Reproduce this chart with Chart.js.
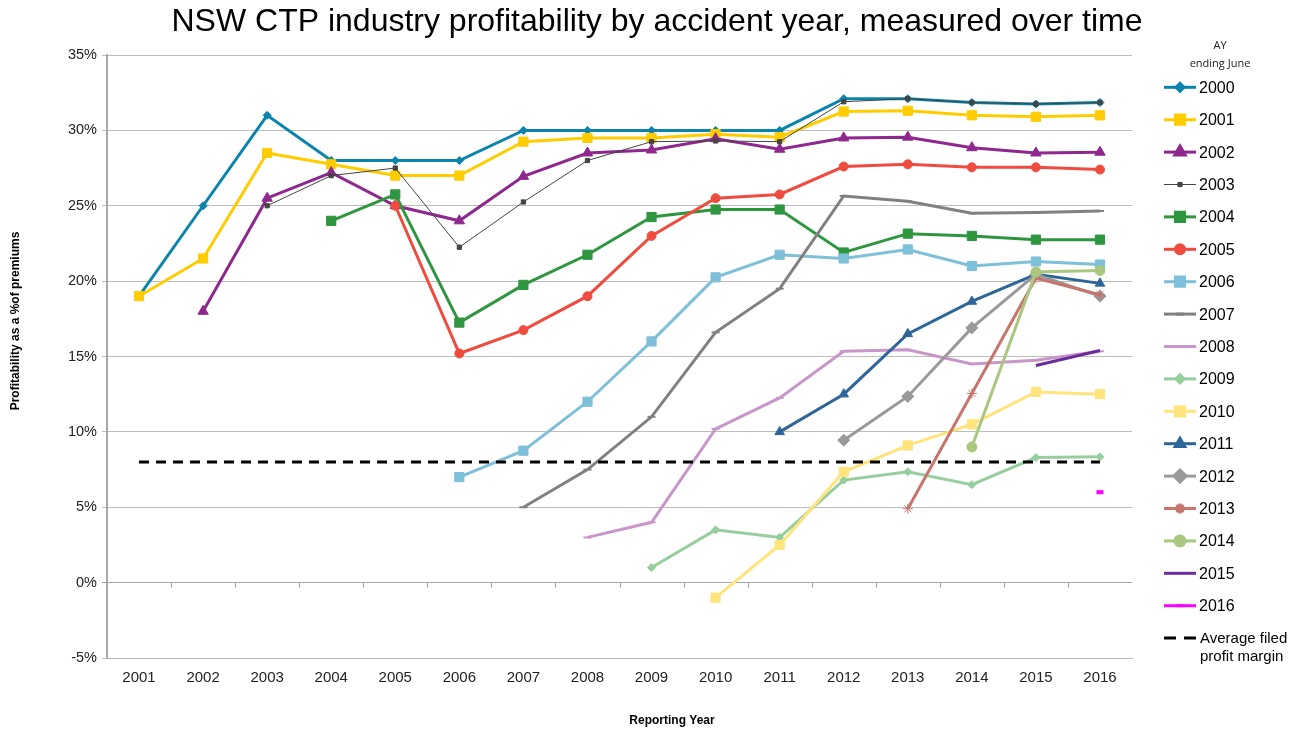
<!DOCTYPE html>
<html>
<head>
<meta charset="utf-8">
<script src="https://cdn.jsdelivr.net/npm/chart.js@4.4.1/dist/chart.umd.min.js"></script>
<style>
  html, body { margin: 0; padding: 0; background: #fff; }
  #wrap { width: 1291px; height: 730px; position: relative; }
</style>
</head>
<body>
<div id="wrap"><canvas id="myChart"></canvas></div>
<script>
// reporting years (x categories)
const years = ['2001','2002','2003','2004','2005','2006','2007','2008',
               '2009','2010','2011','2012','2013','2014','2015','2016'];

// profitability (% of premiums) per accident year, by reporting year
const ay2000 = [19, 25, 31, 28, 28, 28, 30, 30, 30, 30, 30, 32.1, 32.1, 31.85, 31.75, 31.85];
const ay2001 = [19, 21.5, 28.5, 27.75, 27, 27, 29.25, 29.5, 29.5, 29.75, 29.55, 31.25, 31.3, 31.0, 30.9, 31.0];
const ay2002 = [null, 18, 25.5, 27.2, 25, 24, 26.95, 28.5, 28.7, 29.45, 28.75, 29.5, 29.55, 28.85, 28.5, 28.55];
const ay2003 = [null, null, 25, 27, 27.5, 22.25, 25.25, 28, 29.25, 29.3, 29.25, 31.9, 32.1, 31.85, 31.75, 31.85];
const ay2004 = [null, null, null, 24, 25.75, 17.25, 19.75, 21.75, 24.25, 24.75, 24.75, 21.9, 23.15, 23.0, 22.75, 22.75];
const ay2005 = [null, null, null, null, 25, 15.2, 16.75, 19, 23, 25.5, 25.75, 27.6, 27.75, 27.55, 27.55, 27.4];
const ay2006 = [null, null, null, null, null, 7, 8.75, 12, 16, 20.25, 21.75, 21.5, 22.1, 21.0, 21.3, 21.1];
const ay2007 = [null, null, null, null, null, null, 5, 7.5, 11, 16.6, 19.5, 25.65, 25.3, 24.5, 24.55, 24.65];
const ay2008 = [null, null, null, null, null, null, null, 3, 4, 10.2, 12.25, 15.35, 15.45, 14.5, 14.75, 15.35];
const ay2009 = [null, null, null, null, null, null, null, null, 1, 3.5, 3, 6.8, 7.35, 6.5, 8.3, 8.35];
const ay2010 = [null, null, null, null, null, null, null, null, null, -1, 2.5, 7.35, 9.1, 10.5, 12.65, 12.5];
const ay2011 = [null, null, null, null, null, null, null, null, null, null, 10, 12.5, 16.5, 18.65, 20.45, 19.85];
const ay2012 = [null, null, null, null, null, null, null, null, null, null, null, 9.45, 12.35, 16.9, 20.45, 19.0];
const ay2013 = [null, null, null, null, null, null, null, null, null, null, null, null, 4.9, 12.55, 20.2, 19.1];
const ay2014 = [null, null, null, null, null, null, null, null, null, null, null, null, null, 9, 20.6, 20.7];
const ay2015 = [null, null, null, null, null, null, null, null, null, null, null, null, null, null, 14.4, 15.4];
const ay2016 = [null, null, null, null, null, null, null, null, null, null, null, null, null, null, null, 6];

// average filed profit margin
const avgMargin = [8, 8, 8, 8, 8, 8, 8, 8, 8, 8, 8, 8, 8, 8, 8, 8];

const yTicks = [-5, 0, 5, 10, 15, 20, 25, 30, 35];

const series = [
  { label: '2000', data: ay2000, color: '#0b84ad', style: 'rectRot', r: 4,   w: 3 },
  { label: '2001', data: ay2001, color: '#ffcc00', style: 'rect',    r: 6.5, w: 3 },
  { label: '2002', data: ay2002, color: '#8e288e', style: 'triangle',r: 6,   w: 3 },
  { label: '2003', data: ay2003, color: '#444444', style: 'rect',    r: 3,   w: 1 },
  { label: '2004', data: ay2004, color: '#2e963f', style: 'rect',    r: 6.5, w: 3 },
  { label: '2005', data: ay2005, color: '#ef4b3f', style: 'circle',  r: 4.5, w: 3 },
  { label: '2006', data: ay2006, color: '#7ec0d9', style: 'rect',    r: 6.5, w: 3 },
  { label: '2007', data: ay2007, color: '#808080', style: 'line',    r: 4,   w: 3 },
  { label: '2008', data: ay2008, color: '#c896c8', style: 'line',    r: 4,   w: 3 },
  { label: '2009', data: ay2009, color: '#96ce9e', style: 'rectRot', r: 4,   w: 3 },
  { label: '2010', data: ay2010, color: '#ffe47c', style: 'rect',    r: 6.5, w: 3 },
  { label: '2011', data: ay2011, color: '#2f6699', style: 'triangle',r: 5.5, w: 3 },
  { label: '2012', data: ay2012, color: '#999999', style: 'rectRot', r: 6,   w: 3 },
  { label: '2013', data: ay2013, color: '#c8746e', style: 'star',    r: 5,   w: 3 },
  { label: '2014', data: ay2014, color: '#a9c77f', style: 'circle',  r: 5,   w: 3 },
  { label: '2015', data: ay2015, color: '#6a2c9a', style: 'circle',  r: 0,   w: 3 },
  { label: '2016', data: ay2016, color: '#ff00ff', style: 'line',    r: 3.5, w: 3, pw: 4 },
];

const datasets = series.map((s, i) => ({
  label: s.label,
  data: s.data,
  borderColor: s.color,
  backgroundColor: s.color,
  borderWidth: s.w,
  pointStyle: s.style,
  pointRadius: s.r,
  pointBackgroundColor: s.color,
  pointBorderColor: s.color,
  pointBorderWidth: s.pw || (s.style === 'line' ? 2 : 1),
  tension: 0,
  spanGaps: false,
  order: series.length - i + 1,
}));

datasets.push({
  label: 'Average filed profit margin',
  data: avgMargin,
  borderColor: '#000000',
  borderWidth: 3,
  borderDash: [10, 7],
  pointRadius: 0,
  tension: 0,
  order: 0,
});

const FONT = '"Liberation Sans", Arial, sans-serif';

const decorations = {
  id: 'decorations',
  afterDraw(chart) {
    const ctx = chart.ctx;
    const area = chart.chartArea;
    const x = chart.scales.x, y = chart.scales.y;

    // tick marks on the 0% line between categories
    const y0 = y.getPixelForValue(0);
    ctx.save();
    ctx.strokeStyle = '#a0a0a0';
    ctx.lineWidth = 1;
    ctx.beginPath();
    for (let i = 1; i < years.length; i++) {
      const px = Math.round((x.getPixelForValue(i - 1) + x.getPixelForValue(i)) / 2) + 0.5;
      ctx.moveTo(px, y0);
      ctx.lineTo(px, y0 + 5);
    }
    ctx.stroke();
    ctx.restore();

    // chart title
    ctx.save();
    ctx.fillStyle = '#000';
    ctx.font = '32px ' + FONT;
    ctx.textAlign = 'center';
    ctx.textBaseline = 'middle';
    ctx.fillText('NSW CTP industry profitability by accident year, measured over time', 657, 22);

    // axis titles
    ctx.font = 'bold 12px ' + FONT;
    ctx.fillText('Reporting Year', 672, 721);
    ctx.translate(16, 321);
    ctx.rotate(-Math.PI / 2);
    ctx.fillText('Profitability as a %of premiums', 0, 0);
    ctx.restore();

    // legend
    const lx = area.right + 32;
    const top = 87.3, row = 32.4;
    ctx.save();
    ctx.fillStyle = '#222';
    ctx.font = '11px "Open Sans", sans-serif';
    ctx.textAlign = 'center';
    ctx.textBaseline = 'middle';
    ctx.fillText('AY', lx + 56, 46);
    ctx.fillText('ending June', lx + 56, 64);
    ctx.restore();

    series.forEach((s, i) => {
      const ly = top + i * row;
      ctx.save();
      ctx.strokeStyle = s.color;
      ctx.lineWidth = s.w;
      ctx.beginPath();
      ctx.moveTo(lx, ly);
      ctx.lineTo(lx + 32, ly);
      ctx.stroke();
      if (s.r) {
        ctx.fillStyle = s.color;
        ctx.strokeStyle = s.color;
        Chart.helpers.drawPoint(ctx, {
          pointStyle: s.style, radius: s.r, rotation: 0,
          borderWidth: s.pw || (s.style === 'line' ? 2 : 1)
        }, lx + 16, ly);
      }
      ctx.fillStyle = '#000';
      ctx.font = '16px ' + FONT;
      ctx.textBaseline = 'middle';
      ctx.textAlign = 'left';
      ctx.fillText(s.label, lx + 35, ly + 1);
      ctx.restore();
    });

    const ay = top + series.length * row;
    ctx.save();
    ctx.strokeStyle = '#000';
    ctx.lineWidth = 3;
    ctx.setLineDash([12, 8]);
    ctx.beginPath();
    ctx.moveTo(lx, ay);
    ctx.lineTo(lx + 32, ay);
    ctx.stroke();
    ctx.fillStyle = '#000';
    ctx.font = '15px ' + FONT;
    ctx.textBaseline = 'middle';
    ctx.fillText('Average filed', lx + 36, ay + 1);
    ctx.fillText('profit margin', lx + 36, ay + 19);
    ctx.restore();
  }
};

const config = {
  type: 'line',
  data: { labels: years, datasets: datasets },
  options: {
    responsive: true,
    maintainAspectRatio: false,
    animation: false,
    devicePixelRatio: 1,
    layout: { padding: { top: 55, right: 159, left: 0, bottom: 0 } },
    plugins: {
      legend: { display: false },
      title: { display: false },
      tooltip: { enabled: false },
    },
    scales: {
      x: {
        offset: true,
        grid: { display: false },
        border: { display: true, color: '#b8b8b8', width: 1 },
        ticks: { color: '#222', font: { family: FONT, size: 15 }, padding: 3, maxRotation: 0 },
        afterFit: (s) => { s.height = 72; },
      },
      y: {
        min: -5,
        max: 35,
        afterBuildTicks: (s) => { s.ticks = yTicks.map(v => ({ value: v })); },
        grid: {
          color: (c) => (c.tick && c.tick.value === 0 ? '#a6a6a6' : '#bdbdbd'),
          lineWidth: 1,
          tickLength: 5,
          drawTicks: true,
        },
        border: { display: true, color: '#a8a8a8', width: 2 },
        ticks: {
          color: '#222',
          font: { family: FONT, size: 14.5 },
          padding: 5,
          callback: (v) => v + '%',
        },
        afterFit: (s) => { s.width = 107; },
      },
    },
  },
  plugins: [decorations],
};

const myChart = new Chart(document.getElementById('myChart'), config);
</script>
</body>
</html>
